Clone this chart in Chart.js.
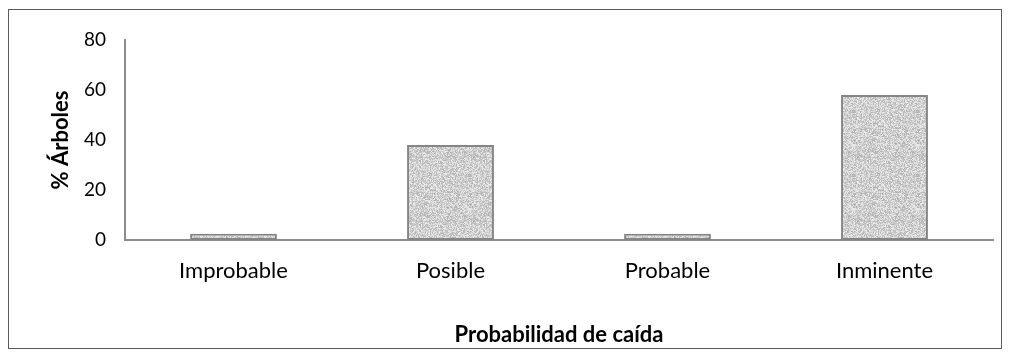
<!DOCTYPE html>
<html>
<head>
<meta charset="utf-8">
<script src="https://cdn.jsdelivr.net/npm/chart.js@4"></script>
<style>
  html, body { margin: 0; padding: 0; background: #fff; }
  #wrap { position: relative; width: 1011px; height: 352px; }
  #frame { position: absolute; left: 8px; top: 9px; width: 994px; height: 340px; border: 1.5px solid #5a5a5a; box-sizing: border-box; }
  canvas { position: absolute; left: 0; top: 0; }
</style>
</head>
<body>
<div id="wrap">
  <div id="frame"></div>
  <canvas id="chart" width="1011" height="352"></canvas>
</div>
<script>
const categories = ["Improbable", "Posible", "Probable", "Inminente"];
const values     = [2.5, 38, 2.5, 58];
const yTicks     = [0, 20, 40, 60, 80];

// grey speckled texture like the original fill
function speckle() {
  const c = document.createElement("canvas");
  c.width = 64; c.height = 64;
  const g = c.getContext("2d");
  let s = 12345;
  for (let y = 0; y < 64; y++) {
    for (let x = 0; x < 64; x++) {
      s = (s * 1103515245 + 12345) & 0x7fffffff;
      const v = 175 + (s % 65);
      g.fillStyle = `rgb(${v},${v},${v})`;
      g.fillRect(x, y, 1, 1);
    }
  }
  return document.getElementById("chart").getContext("2d").createPattern(c, "repeat");
}

const font = "Lato, 'Open Sans', sans-serif";

new Chart(document.getElementById("chart"), {
  type: "bar",
  data: {
    labels: categories,
    datasets: [{
      data: values,
      backgroundColor: speckle(),
      borderColor: "#858585",
      borderWidth: 2,
      borderSkipped: false,
      barPercentage: 0.4,
      categoryPercentage: 1,
    }],
  },
  options: {
    responsive: false,
    animation: false,
    layout: { padding: { left: 44, right: 18, top: 40, bottom: 4 } },
    plugins: { legend: { display: false }, tooltip: { enabled: false } },
    scales: {
      x: {
        grid: { display: false, drawTicks: false },
        border: { color: "#8c8c8c", width: 2 },
        ticks: { color: "#000", font: { family: font, size: 22 }, padding: 18 },
        title: { display: true, text: "Probabilidad de caída", color: "#000", font: { family: font, size: 22, weight: "bold" }, padding: { top: 38, bottom: 0 } },
        afterFit: s => { s.height = 108; },
      },
      y: {
        min: 0, max: 80,
        afterBuildTicks: s => { s.ticks = yTicks.map(v => ({ value: v })); },
        grid: { display: false, drawOnChartArea: false, drawTicks: true, tickLength: 7, tickColor: "#8c8c8c", tickWidth: 2 },
        border: { color: "#8c8c8c", width: 2 },
        ticks: { color: "#000", font: { family: font, size: 19 }, padding: 12 },
        title: { display: true, text: "% Árboles", color: "#000", font: { family: font, size: 22, weight: "bold" }, padding: { bottom: 2 } },
        afterFit: s => { s.width = 81; },
      },
    },
  },
});
</script>
</body>
</html>
